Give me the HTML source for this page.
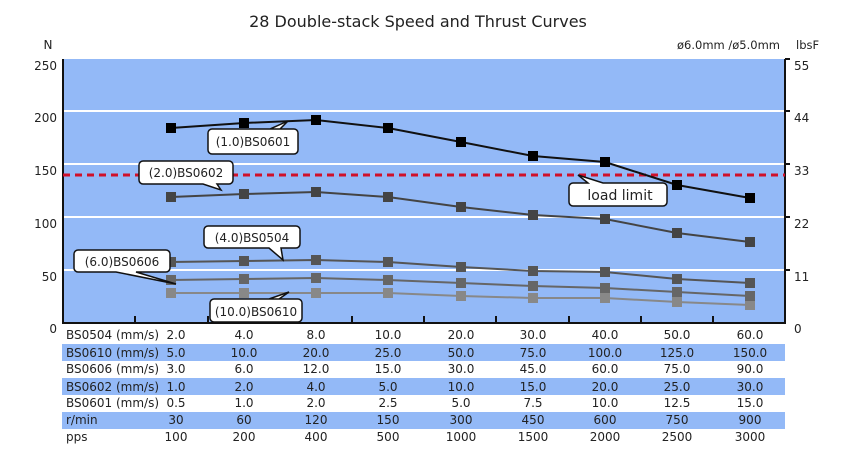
<!DOCTYPE html>
<html><head><style>
body{margin:0;background:#fff;}
svg text{font-family:"DejaVu Sans","Liberation Sans",sans-serif;}
</style></head><body>
<svg width="850" height="458" viewBox="0 0 850 458" xmlns="http://www.w3.org/2000/svg">
<text x="418" y="27" font-size="16" text-anchor="middle" fill="#222" font-family="Liberation Sans">28 Double-stack Speed and Thrust Curves</text>
<text x="48" y="49" font-size="12" text-anchor="middle" fill="#222">N</text>
<text x="677" y="49" font-size="11.5" fill="#222">ø6.0mm /ø5.0mm</text>
<text x="796" y="49" font-size="11.5" fill="#222">lbsF</text>
<rect x="62" y="59" width="723" height="264" fill="#93b9f7"/>
<g stroke="#fff" stroke-width="2">
<line x1="63" y1="111" x2="785" y2="111"/><line x1="63" y1="164" x2="785" y2="164"/>
<line x1="63" y1="217" x2="785" y2="217"/><line x1="63" y1="270" x2="785" y2="270"/>
</g>
<g stroke="#111" stroke-width="2">
<line x1="63" y1="59" x2="63" y2="323"/><line x1="785" y1="59" x2="785" y2="323"/>
<line x1="62" y1="323" x2="786" y2="323"/>
<line x1="135" y1="316" x2="135" y2="323"/><line x1="208" y1="316" x2="208" y2="323"/><line x1="280" y1="316" x2="280" y2="323"/><line x1="352" y1="316" x2="352" y2="323"/><line x1="424" y1="316" x2="424" y2="323"/><line x1="496" y1="316" x2="496" y2="323"/><line x1="569" y1="316" x2="569" y2="323"/><line x1="641" y1="316" x2="641" y2="323"/><line x1="713" y1="316" x2="713" y2="323"/>
<line x1="785" y1="59" x2="790" y2="59"/><line x1="785" y1="111" x2="790" y2="111"/><line x1="785" y1="164" x2="790" y2="164"/><line x1="785" y1="217" x2="790" y2="217"/><line x1="785" y1="270" x2="790" y2="270"/>
</g>
<g font-size="12" fill="#222" text-anchor="end">
<text x="57" y="70">250</text><text x="57" y="122">200</text><text x="57" y="175">150</text><text x="57" y="228">100</text><text x="57" y="281">50</text><text x="57" y="333">0</text>
</g>
<g font-size="12" fill="#222">
<text x="794" y="70">55</text><text x="794" y="122">44</text><text x="794" y="175">33</text><text x="794" y="228">22</text><text x="794" y="281">11</text><text x="794" y="333">0</text>
</g>
<line x1="63" y1="175" x2="785" y2="175" stroke="#d0102a" stroke-width="3" stroke-dasharray="7,5"/>
<g fill="none" stroke-width="2">
<polyline stroke="#888" points="171,293 244,293 316,293 388,293 461,296 533,298 605,298 677,302 750,305"/>
<polyline stroke="#666" points="171,280 244,279 316,278 388,280 461,283 533,286 605,288 677,292 750,296"/>
<polyline stroke="#555" points="171,262 244,261 316,260 388,262 461,267 533,271 605,272 677,279 750,283"/>
<polyline stroke="#444" points="171,197 244,194 316,192 388,197 461,207 533,215 605,219 677,233 750,242"/>
<polyline stroke="#111" points="171,128 244,123 316,120 388,128 461,142 533,156 605,162 677,185 750,198"/>
</g>
<g fill="#888"><rect x="166" y="288" width="10" height="10"/><rect x="239" y="288" width="10" height="10"/><rect x="311" y="288" width="10" height="10"/><rect x="383" y="288" width="10" height="10"/><rect x="456" y="291" width="10" height="10"/><rect x="528" y="293" width="10" height="10"/><rect x="600" y="293" width="10" height="10"/><rect x="672" y="297" width="10" height="10"/><rect x="745" y="300" width="10" height="10"/></g>
<g fill="#666"><rect x="166" y="275" width="10" height="10"/><rect x="239" y="274" width="10" height="10"/><rect x="311" y="273" width="10" height="10"/><rect x="383" y="275" width="10" height="10"/><rect x="456" y="278" width="10" height="10"/><rect x="528" y="281" width="10" height="10"/><rect x="600" y="283" width="10" height="10"/><rect x="672" y="287" width="10" height="10"/><rect x="745" y="291" width="10" height="10"/></g>
<g fill="#555"><rect x="166" y="257" width="10" height="10"/><rect x="239" y="256" width="10" height="10"/><rect x="311" y="255" width="10" height="10"/><rect x="383" y="257" width="10" height="10"/><rect x="456" y="262" width="10" height="10"/><rect x="528" y="266" width="10" height="10"/><rect x="600" y="267" width="10" height="10"/><rect x="672" y="274" width="10" height="10"/><rect x="745" y="278" width="10" height="10"/></g>
<g fill="#444"><rect x="166" y="192" width="10" height="10"/><rect x="239" y="189" width="10" height="10"/><rect x="311" y="187" width="10" height="10"/><rect x="383" y="192" width="10" height="10"/><rect x="456" y="202" width="10" height="10"/><rect x="528" y="210" width="10" height="10"/><rect x="600" y="214" width="10" height="10"/><rect x="672" y="228" width="10" height="10"/><rect x="745" y="237" width="10" height="10"/></g>
<g fill="#000"><rect x="166" y="123" width="10" height="10"/><rect x="239" y="118" width="10" height="10"/><rect x="311" y="115" width="10" height="10"/><rect x="383" y="123" width="10" height="10"/><rect x="456" y="137" width="10" height="10"/><rect x="528" y="151" width="10" height="10"/><rect x="600" y="157" width="10" height="10"/><rect x="672" y="180" width="10" height="10"/><rect x="745" y="193" width="10" height="10"/></g>
<g fill="#fff" stroke="#111" stroke-width="1.5">
<path d="M212,129 h82 a4,4 0 0 1 4,4 v17 a4,4 0 0 1 -4,4 h-82 a4,4 0 0 1 -4,-4 v-17 a4,4 0 0 1 4,-4 h58 l18,-8 -8,8"/>
<path d="M143,161 h86 a4,4 0 0 1 4,4 v15 a4,4 0 0 1 -4,4 h-12 l4,6 -18,-6 h-60 a4,4 0 0 1 -4,-4 v-15 a4,4 0 0 1 4,-4z"/>
<path d="M208,226 h88 a4,4 0 0 1 4,4 v14 a4,4 0 0 1 -4,4 h-15 l2,12 -14,-12 h-61 a4,4 0 0 1 -4,-4 v-14 a4,4 0 0 1 4,-4z"/>
<path d="M78,250 h88 a4,4 0 0 1 4,4 v14 a4,4 0 0 1 -4,4 h-30 l40,12 -60,-12 h-38 a4,4 0 0 1 -4,-4 v-14 a4,4 0 0 1 4,-4z"/>
<path d="M214,299 h84 a4,4 0 0 1 4,4 v15 a4,4 0 0 1 -4,4 h-84 a4,4 0 0 1 -4,-4 v-15 a4,4 0 0 1 4,-4 h55 l20,-7 -10,7"/>
<path d="M573,183 h15 l-10,-8 25,8 h60 a4,4 0 0 1 4,4 v15 a4,4 0 0 1 -4,4 h-90 a4,4 0 0 1 -4,-4 v-15 a4,4 0 0 1 4,-4z"/>
</g>
<g font-size="12" fill="#222" text-anchor="middle">
<text x="253" y="146">(1.0)BS0601</text>
<text x="186" y="177">(2.0)BS0602</text>
<text x="252" y="242">(4.0)BS0504</text>
<text x="122" y="266">(6.0)BS0606</text>
<text x="256" y="316">(10.0)BS0610</text>
<text x="620" y="200" font-size="14" font-family="Liberation Sans">load limit</text>
</g>
<g fill="#93b9f7"><rect x="62" y="344" width="723" height="17"/><rect x="62" y="378" width="723" height="17"/><rect x="62" y="412" width="723" height="17"/></g>
<g font-size="12" fill="#222">
<text x="66" y="339">BS0504 (mm/s)</text><text x="66" y="357">BS0610 (mm/s)</text><text x="66" y="373">BS0606 (mm/s)</text><text x="66" y="391">BS0602 (mm/s)</text><text x="66" y="407">BS0601 (mm/s)</text><text x="66" y="424">r/min</text><text x="66" y="441">pps</text>
</g>
<g font-size="12" fill="#222" text-anchor="middle">
<text y="339"><tspan x="176">2.0</tspan><tspan x="244">4.0</tspan><tspan x="316">8.0</tspan><tspan x="388">10.0</tspan><tspan x="461">20.0</tspan><tspan x="533">30.0</tspan><tspan x="605">40.0</tspan><tspan x="677">50.0</tspan><tspan x="750">60.0</tspan></text>
<text y="357"><tspan x="176">5.0</tspan><tspan x="244">10.0</tspan><tspan x="316">20.0</tspan><tspan x="388">25.0</tspan><tspan x="461">50.0</tspan><tspan x="533">75.0</tspan><tspan x="605">100.0</tspan><tspan x="677">125.0</tspan><tspan x="750">150.0</tspan></text>
<text y="373"><tspan x="176">3.0</tspan><tspan x="244">6.0</tspan><tspan x="316">12.0</tspan><tspan x="388">15.0</tspan><tspan x="461">30.0</tspan><tspan x="533">45.0</tspan><tspan x="605">60.0</tspan><tspan x="677">75.0</tspan><tspan x="750">90.0</tspan></text>
<text y="391"><tspan x="176">1.0</tspan><tspan x="244">2.0</tspan><tspan x="316">4.0</tspan><tspan x="388">5.0</tspan><tspan x="461">10.0</tspan><tspan x="533">15.0</tspan><tspan x="605">20.0</tspan><tspan x="677">25.0</tspan><tspan x="750">30.0</tspan></text>
<text y="407"><tspan x="176">0.5</tspan><tspan x="244">1.0</tspan><tspan x="316">2.0</tspan><tspan x="388">2.5</tspan><tspan x="461">5.0</tspan><tspan x="533">7.5</tspan><tspan x="605">10.0</tspan><tspan x="677">12.5</tspan><tspan x="750">15.0</tspan></text>
<text y="424"><tspan x="176">30</tspan><tspan x="244">60</tspan><tspan x="316">120</tspan><tspan x="388">150</tspan><tspan x="461">300</tspan><tspan x="533">450</tspan><tspan x="605">600</tspan><tspan x="677">750</tspan><tspan x="750">900</tspan></text>
<text y="441"><tspan x="176">100</tspan><tspan x="244">200</tspan><tspan x="316">400</tspan><tspan x="388">500</tspan><tspan x="461">1000</tspan><tspan x="533">1500</tspan><tspan x="605">2000</tspan><tspan x="677">2500</tspan><tspan x="750">3000</tspan></text>
</g>
</svg>
</body></html>
